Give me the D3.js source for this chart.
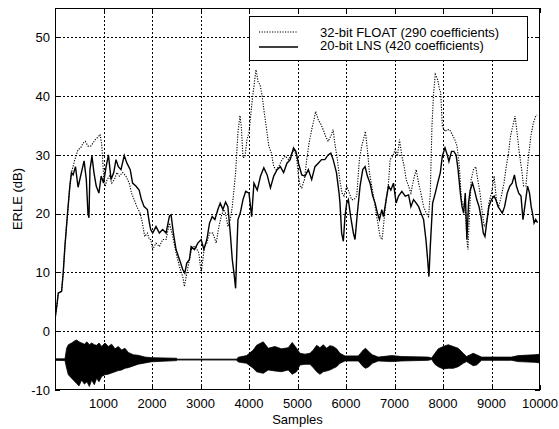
<!DOCTYPE html>
<html><head><meta charset="utf-8">
<script src="https://cdn.jsdelivr.net/npm/d3@7"></script>
<style>body{margin:0;background:#fff}svg text{font-family:"Liberation Sans",Arial,sans-serif}</style>
</head><body><svg id="c" width="559" height="429"></svg>
<script>
// ---- data ----
const xTicks = [1000,2000,3000,4000,5000,6000,7000,8000,9000,10000];
const yTicks = [-10,0,10,20,30,40,50];
const seriesNames = ["32-bit FLOAT (290 coefficients)", "20-bit LNS (420 coefficients)"];

const lnsX = [0,40,68,136,170,204,258,306,340,374,422,476,544,600,646,680,700,721,762,803,850,905,952,1000,1054,1102,1156,1211,1258,1306,1360,1428,1483,1551,1600,1667,1735,1782,1837,1905,1945,1973,2014,2083,2152,2220,2290,2359,2393,2441,2496,2566,2634,2676,2717,2772,2806,2876,2945,3014,3069,3131,3186,3241,3296,3358,3407,3462,3517,3565,3614,3655,3690,3724,3752,3772,3820,3876,3932,4000,4054,4102,4170,4238,4306,4374,4442,4510,4578,4646,4714,4782,4850,4918,4966,5020,5088,5156,5224,5292,5360,5428,5496,5564,5632,5687,5735,5803,5857,5876,5910,5945,5979,6014,6048,6096,6152,6186,6234,6290,6345,6393,6441,6496,6551,6600,6648,6690,6738,6772,6828,6876,6924,6979,7034,7083,7152,7221,7290,7338,7393,7448,7497,7545,7600,7648,7683,7710,7738,7786,7841,7890,7945,7986,8041,8088,8122,8176,8223,8270,8311,8358,8392,8426,8459,8493,8527,8561,8608,8649,8696,8743,8784,8831,8865,8899,8946,9000,9054,9088,9135,9176,9223,9270,9324,9378,9426,9473,9514,9561,9608,9649,9696,9743,9784,9818,9845,9878,9912,9950];
const lnsY = [2,4.5,6.5,6.8,10,14.4,20,24.7,27,26.6,28,24.5,27,29,25.8,20,19.3,27.5,29.8,27,24.7,23.5,26.4,25.2,28,30,25.8,27,29.2,28,27.5,29.9,28.6,27.5,25.2,24.7,24,22.4,21.2,20.7,18.5,17.3,16.7,17.8,16.7,17.3,16.7,19.6,19.8,16.7,13.9,12.2,10.5,9.9,11.6,12.2,14.4,13.9,15,15.6,13.9,15.6,18.4,19.5,19,20.7,21.8,20.7,22,21.2,16.7,12.2,9.9,7.3,14.4,19,20.1,22.4,23.8,23.5,19.5,25.2,24,26.4,27.8,26.6,24.4,26.4,27.5,28,27,28.6,29.2,31.2,30.6,28.6,26.6,26.4,27.5,25.8,28,28.6,29.2,29.2,30,30.3,29.2,27,23.5,21.8,16.7,15.3,19.5,21.8,22.4,19.5,16.7,15.6,20.1,24.7,27.5,28,26.4,25.2,23,21.8,20.1,19,20.7,19.5,22.4,24.7,24,25.2,21.8,23,23.8,23,23.2,21.2,22.4,21.8,21.2,20.1,19,15.6,12.2,9.3,14.4,21.8,23.5,25.2,27,29.8,31.2,30,28.9,30.6,30.6,30,27.5,23.5,21.2,20.1,23.5,15.6,21.8,24,25.2,24,22.4,21.2,19.5,16.7,16.1,18.4,21.2,22.4,23,22.4,21.2,20.7,20.1,21.2,23.5,24.7,25.2,26.6,24.7,23.5,23,19,21.8,24.7,23.5,21.2,20.1,18.4,19,18.5];

const fltX = [0,40,68,136,170,204,258,306,340,408,476,530,578,626,680,735,782,830,884,932,966,1007,1034,1075,1122,1170,1224,1279,1327,1394,1462,1530,1578,1632,1687,1755,1803,1850,1905,1945,1973,2014,2083,2152,2220,2290,2359,2428,2496,2566,2634,2669,2717,2772,2827,2896,2966,3014,3048,3083,3131,3186,3255,3324,3379,3427,3476,3517,3565,3614,3655,3683,3724,3772,3814,3841,3876,3918,3958,4000,4068,4144,4190,4227,4272,4306,4354,4408,4462,4510,4558,4612,4680,4748,4816,4884,4938,4986,5020,5054,5088,5143,5190,5238,5292,5340,5374,5428,5483,5530,5578,5632,5687,5735,5769,5823,5871,5918,5959,6014,6069,6117,6165,6221,6276,6324,6359,6400,6441,6483,6531,6579,6621,6669,6703,6745,6786,6828,6876,6910,6965,7014,7062,7103,7152,7200,7241,7290,7338,7393,7448,7497,7545,7600,7655,7703,7738,7772,7807,7841,7890,7931,7953,7986,8041,8088,8135,8189,8243,8290,8338,8378,8426,8459,8493,8514,8541,8581,8628,8676,8716,8764,8811,8851,8899,8946,9000,9054,9101,9149,9203,9257,9304,9351,9392,9439,9486,9527,9574,9622,9662,9709,9757,9811,9865,9912,9940];
const fltY = [2,4.5,6.5,6.8,10,14.4,20,24.7,27,29.2,30.9,31.2,32,32.3,31.5,31.5,32,32.6,33,33.5,31.5,25.8,24.7,25.8,26.4,25.2,25.8,27,26.4,27,26.4,25.2,23.5,22.4,21.2,20.1,18.4,16.1,16.7,15.6,15.6,13.9,15,14.4,15.6,15.6,18.4,16.1,13.3,11,9.3,7.6,9.9,12.2,14.4,14.4,13.3,9.9,12.2,14.4,15,16.7,16.7,15,17.8,19.5,20.7,20.1,17.8,19,21.2,23.5,27,33.8,36.7,34.9,29.5,29.7,32.6,33.8,39.4,44.5,42.3,42,40,37.7,34.9,31.5,30.3,28,27.5,28,29.2,29.8,29.2,30.3,30.9,29.2,26.4,24.7,24.4,25.8,29.2,32,34.3,36,37.4,36,35.2,34.3,33.2,32.3,33.2,34.3,32,29.2,25.8,23.5,23,24.7,23.5,22.4,22.4,23,29.2,31.5,32.6,34,30.9,27,24.7,22.4,20.1,17.8,16.1,15.6,19,22.4,25.2,29.2,29.8,30.9,29.8,32.6,29.8,28,25.8,24.7,23.5,25.8,27.5,25.2,23.5,21.2,20.1,19.5,23.5,34.9,40.6,43.7,42.8,41.1,40.6,34.9,34,34.3,34.3,33.5,32.6,31.5,28,22.4,21.2,21.2,15.6,13.9,19,25.8,27.5,28,25.8,23.5,20.1,17.8,18.4,21.8,23.5,26.4,22.4,21.2,23,25.2,28,30.3,33.2,34.9,36.6,33.8,30.3,27.5,24.7,24.7,29.2,33.2,35.5,36.6,36.8];

// bottom signal envelope (upper / lower, dB)
const sigX  = [0,206,240,275,343,412,446,495,550,605,660,708,756,811,859,907,962,1030,1099,1168,1237,1305,1374,1443,1511,1614,1718,1855,1992,2508,2520,3740,3779,3950,4088,4156,4294,4397,4534,4671,4809,4891,4981,5051,5154,5257,5326,5395,5463,5532,5601,5669,5738,5807,5875,5978,6253,6356,6404,6473,6542,6666,6940,7146,7696,7765,7833,7902,8005,8108,8211,8314,8417,8486,8623,8692,8795,9413,9551,9895,10000];
const sigHi = [-4.7,-4.7,-2.9,-2.3,-2.0,-1.6,-1.5,-1.8,-2.0,-2.2,-1.8,-2.3,-2.0,-2.3,-2.4,-2.0,-2.6,-2.0,-2.6,-2.2,-3.0,-2.6,-3.2,-2.9,-3.6,-4.0,-4.1,-4.4,-4.5,-4.6,-4.75,-4.75,-4.43,-4.15,-3.2,-2.4,-1.8,-2.9,-2.6,-3.0,-2.8,-1.9,-2.9,-3.75,-3.9,-3.75,-3.2,-2.4,-2.8,-2.3,-2.9,-2.45,-2.6,-3.0,-3.75,-4.2,-4.2,-3.2,-2.9,-3.5,-4.0,-4.4,-4.15,-4.3,-4.4,-4.55,-3.75,-3.0,-2.6,-2.3,-2.6,-2.9,-3.75,-4.3,-3.75,-4.0,-4.4,-4.4,-4.15,-4.0,-3.9];
const sigLo = [-4.95,-5.0,-6.3,-7.4,-8.0,-8.6,-8.9,-9.3,-8.3,-9.0,-8.6,-9.4,-8.3,-9.1,-8.0,-8.6,-7.7,-7.4,-7.3,-7.1,-6.9,-6.7,-6.6,-6.3,-6.2,-5.9,-5.6,-5.4,-5.2,-5.0,-4.9,-4.9,-5.23,-5.46,-6.3,-6.9,-7.16,-6.59,-6.76,-6.88,-6.59,-7.33,-6.88,-5.74,-5.63,-5.63,-6.2,-6.88,-7.33,-6.88,-6.76,-6.59,-6.31,-6.03,-5.46,-5.06,-5.06,-6.03,-6.31,-6.03,-5.46,-5.06,-5.17,-5.06,-4.95,-4.8,-5.63,-6.03,-6.42,-6.31,-6.31,-6.03,-5.46,-5.17,-5.86,-5.74,-4.95,-4.95,-5.17,-5.29,-5.4];

// ---- drawing ----
const svg = d3.select("#c");
const L = 55, R = 540, T = 8, B = 390;
const x = d3.scaleLinear().domain([0,10000]).range([L,R]);
const y = d3.scaleLinear().domain([-10,55]).range([B,T]);

svg.append("defs").append("clipPath").attr("id","clip")
  .append("rect").attr("x",L).attr("y",T).attr("width",R-L).attr("height",B-T);

// grid
const g = svg.append("g").attr("stroke","#000").attr("stroke-width",1).attr("stroke-dasharray","2,2").attr("shape-rendering","crispEdges");
xTicks.slice(0,-1).forEach(t=>g.append("line").attr("x1",Math.round(x(t))+0.5).attr("x2",Math.round(x(t))+0.5).attr("y1",T).attr("y2",B));
yTicks.slice(1).forEach(t=>g.append("line").attr("y1",Math.round(y(t))+0.5).attr("y2",Math.round(y(t))+0.5).attr("x1",L).attr("x2",R));

const plot = svg.append("g").attr("clip-path","url(#clip)");
// signal envelope
const sigData = sigX.map((v,i)=>({x:v,h:sigHi[i],l:sigLo[i]}));
plot.append("path").datum(sigData)
  .attr("d", d3.area().x(d=>x(d.x)).y0(d=>y(d.l)).y1(d=>y(d.h)))
  .attr("fill","#000").attr("stroke","#000").attr("stroke-width",0.8);

const line = d3.line().x(d=>x(d[0])).y(d=>y(d[1]));
plot.append("path").datum(fltX.map((v,i)=>[v,fltY[i]]))
  .attr("d",line).attr("fill","none").attr("stroke","#000").attr("stroke-width",1.1).attr("stroke-dasharray","1.2,1.4");
plot.append("path").datum(lnsX.map((v,i)=>[v,lnsY[i]]))
  .attr("d",line).attr("fill","none").attr("stroke","#000").attr("stroke-width",1.4);

// frame
svg.append("rect").attr("x",L+0.5).attr("y",T+0.5).attr("width",R-L-1).attr("height",B-T-1)
  .attr("fill","none").attr("stroke","#000").attr("shape-rendering","crispEdges");

// ticks (inward, all four sides)
const tk = svg.append("g").attr("stroke","#000").attr("shape-rendering","crispEdges");
xTicks.forEach(t=>{const px=Math.round(x(t))+0.5;
  tk.append("line").attr("x1",px).attr("x2",px).attr("y1",B).attr("y2",B-5);
  tk.append("line").attr("x1",px).attr("x2",px).attr("y1",T).attr("y2",T+5);});
yTicks.forEach(t=>{const py=Math.round(y(t))+0.5;
  tk.append("line").attr("y1",py).attr("y2",py).attr("x1",L).attr("x2",L+5);
  tk.append("line").attr("y1",py).attr("y2",py).attr("x1",R).attr("x2",R-5);});

// tick labels
svg.append("g").selectAll("text").data(xTicks).join("text")
  .attr("x",d=>x(d)).attr("y",408).attr("text-anchor","middle").attr("font-size",13).text(d=>d);
svg.append("g").selectAll("text").data(yTicks).join("text")
  .attr("x",50).attr("y",d=>y(d)+4.6).attr("text-anchor","end").attr("font-size",13).text(d=>d);

svg.append("text").attr("x",(L+R)/2).attr("y",424).attr("text-anchor","middle").attr("font-size",13).text("Samples");
svg.append("text").attr("transform",`translate(22,${(T+B)/2}) rotate(-90)`).attr("text-anchor","middle").attr("font-size",13).text("ERLE (dB)");

// legend
const lg = svg.append("g");
lg.append("rect").attr("x",249.5).attr("y",16.5).attr("width",278).attr("height",44)
  .attr("fill","#fff").attr("stroke","#000").attr("shape-rendering","crispEdges");
lg.append("line").attr("x1",259).attr("x2",298).attr("y1",32).attr("y2",32).attr("stroke","#000").attr("stroke-width",1.1).attr("stroke-dasharray","1.2,1.4");
lg.append("line").attr("x1",259).attr("x2",298).attr("y1",47).attr("y2",47).attr("stroke","#000").attr("stroke-width",1.4);
lg.append("text").attr("x",320).attr("y",36.5).attr("font-size",13).text(seriesNames[0]);
lg.append("text").attr("x",320).attr("y",50).attr("font-size",13).text(seriesNames[1]);
</script></body></html>
